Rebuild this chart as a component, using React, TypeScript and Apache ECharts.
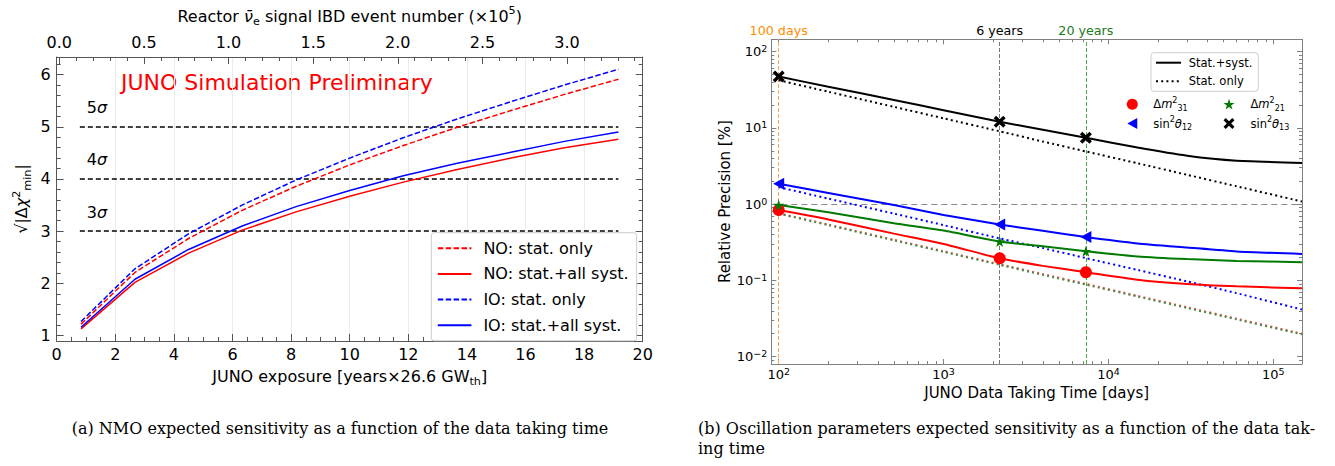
import React, { useEffect, useRef } from "react";
import * as echarts from "echarts";

const FONT = "DejaVu Sans";
const SERIF = "DejaVu Serif";

// ---------- (a) NMO sensitivity ----------
const EXPOSURE = [0.83, 2.67, 4.5, 6.33, 8.17, 10, 11.83, 13.67, 15.5, 17.33, 19.17];
const NO_STAT = [1.22, 2.21, 2.86, 3.4, 3.86, 4.27, 4.64, 4.99, 5.31, 5.62, 5.91];
const NO_SYST = [1.13, 2.02, 2.58, 3.02, 3.37, 3.67, 3.94, 4.18, 4.4, 4.6, 4.76];
const IO_STAT = [1.27, 2.28, 2.95, 3.5, 3.98, 4.4, 4.79, 5.15, 5.48, 5.8, 6.1];
const IO_SYST = [1.16, 2.08, 2.65, 3.1, 3.47, 3.78, 4.06, 4.3, 4.51, 4.72, 4.9];
const SIGMA_LEVELS = [3, 4, 5];
const SIGMA_SPAN = [0.79, 19.17];
const EVENT_TICKS = [0, 0.5, 1, 1.5, 2, 2.5, 3];
const EVENT_MINOR = [0.1, 0.2, 0.3, 0.4, 0.6, 0.7, 0.8, 0.9, 1.1, 1.2, 1.3, 1.4, 1.6, 1.7, 1.8, 1.9, 2.1, 2.2, 2.3, 2.4, 2.6, 2.7, 2.8, 2.9, 3.1, 3.2, 3.3, 3.4];
const CHI_TICKS = [1, 2, 3, 4, 5, 6];
const CHI_MINOR = [1.2, 1.4, 1.6, 1.8, 2.2, 2.4, 2.6, 2.8, 3.2, 3.4, 3.6, 3.8, 4.2, 4.4, 4.6, 4.8, 5.2, 5.4, 5.6, 5.8, 6.2];

// ---------- (b) oscillation parameter precision ----------
const DAYS = [100, 200, 500, 1000, 2190, 4000, 7300, 15000, 30000, 60000, 149300];
const S13_SYST = [47, 34.5, 23.2, 17.0, 12.0, 9.4, 7.4, 5.5, 4.3, 3.7, 3.45];
const S13_STAT = [42, 29.7, 18.8, 13.3, 9.0, 6.6, 4.9, 3.43, 2.42, 1.71, 1.08];
const S12_SYST = [1.85, 1.4, 0.97, 0.72, 0.54, 0.447, 0.37, 0.305, 0.27, 0.24, 0.222];
const S12_STAT = [1.67, 1.18, 0.75, 0.53, 0.355, 0.265, 0.196, 0.137, 0.097, 0.068, 0.0415];
const DM21_SYST = [0.97, 0.78, 0.56, 0.45, 0.323, 0.28, 0.241, 0.206, 0.19, 0.18, 0.173];
const DM21_STAT = [0.75, 0.53, 0.335, 0.237, 0.16, 0.118, 0.088, 0.0615, 0.0435, 0.0308, 0.0196];
const DM31_SYST = [0.835, 0.63, 0.41, 0.3, 0.195, 0.155, 0.128, 0.102, 0.0896, 0.0835, 0.0787];
const DM31_STAT = [0.76, 0.54, 0.34, 0.241, 0.163, 0.121, 0.09, 0.0628, 0.0445, 0.0315, 0.02];
const MARK_DAYS = [100, 2190, 7300];
const DM31_MARK = [0.835, 0.195, 0.128];
const DM21_MARK = [0.97, 0.323, 0.241];
const S12_MARK = [1.85, 0.54, 0.37];
const S13_MARK = [47, 12.0, 7.4];
const MILESTONES = [100, 2190, 7300];
const MILESTONE_LABELS = ["100 days", "6 years", "20 years"];
const REF_LEVEL = 1;
const DAY_TICKS = [100, 1000, 10000, 100000];
const DAY_MINOR = [200, 300, 400, 500, 600, 700, 800, 900, 2000, 3000, 4000, 5000, 6000, 7000, 8000, 9000, 20000, 30000, 40000, 50000, 60000, 70000, 80000, 90000];
const PREC_TICKS = [0.01, 0.1, 1, 10, 100];
const PREC_MINOR = [0.009, 0.02, 0.03, 0.04, 0.05, 0.06, 0.07, 0.08, 0.09, 0.2, 0.3, 0.4, 0.5, 0.6, 0.7, 0.8, 0.9, 2, 3, 4, 5, 6, 7, 8, 9, 20, 30, 40, 50, 60, 70, 80, 90];

const pairs = (xs: number[], ys: number[]) => xs.map((x, i) => [x, ys[i]]);

const FRAME_A = "#555";
const FRAME_B = "#808080";

const SYM_STAR = "path://M50,2 L61.8,38.2 L99,38.2 L69,60.5 L80.5,97 L50,74.5 L19.5,97 L31,60.5 L1,38.2 L38.2,38.2 Z";
const SYM_LTRI = "path://M0,5 L9,0 L9,10 Z";
const SYM_X = "path://M2,0 L5,3 L8,0 L10,2 L7,5 L10,8 L8,10 L5,7 L2,10 L0,8 L3,5 L0,2 Z";

const richA = (size: number) => ({
  n: { fontFamily: FONT, fontSize: size, color: "#000", lineHeight: size + 6 },
  i: { fontFamily: FONT, fontSize: size, fontStyle: "italic", color: "#000", lineHeight: size + 6 },
  sup: { fontFamily: FONT, fontSize: size * 0.7, color: "#000", lineHeight: size * 0.75, verticalAlign: "top" },
  sub: { fontFamily: FONT, fontSize: size * 0.7, color: "#000", lineHeight: size * 0.75, verticalAlign: "bottom" },
});

const pow10 = (v: number) => {
  const e = Math.round(Math.log10(v));
  return `{b|10}{s|${e < 0 ? "\u2212" + -e : e}}`;
};
const POW_RICH = {
  b: { fontFamily: FONT, fontSize: 13, color: "#000", lineHeight: 16 },
  s: { fontFamily: FONT, fontSize: 9.5, color: "#000", lineHeight: 9, verticalAlign: "top" },
};

const LEGEND_NAMES: Record<string, string> = {
  dm31: "{t|Δ}{i|m}{sup|2}{sub|31}",
  dm21: "{t|Δ}{i|m}{sup|2}{sub|21}",
  s12: "{t|sin}{sup|2}{i|θ}{sub|12}",
  s13: "{t|sin}{sup|2}{i|θ}{sub|13}",
};
const LEG_RICH = {
  t: { fontFamily: FONT, fontSize: 11.5, color: "#000", lineHeight: 16 },
  i: { fontFamily: FONT, fontSize: 11.5, fontStyle: "italic", color: "#000", lineHeight: 16 },
  sup: { fontFamily: FONT, fontSize: 8, color: "#000", lineHeight: 8, verticalAlign: "top" },
  sub: { fontFamily: FONT, fontSize: 8, color: "#000", lineHeight: 8, verticalAlign: "bottom" },
};

function buildOption(): any {
  const A_Y = { min: 0.897, max: 6.336 };
  const A_TOP = { min: -0.0154, max: 3.447 };
  const B_X = { min: 90.2, max: 149300 };
  const B_Y = { min: 0.00802, max: 144.5 };

  const tickOnly = (extra: any) => ({
    axisLine: { show: false, onZero: false },
    axisLabel: { show: false },
    splitLine: { show: false },
    ...extra,
  });

  const xAxis: any[] = [
    {
      type: "value", gridIndex: 0, position: "bottom", min: 0, max: 20, interval: 2,
      axisLine: { show: true, onZero: false, lineStyle: { color: FRAME_A } },
      axisTick: { show: true, inside: true, length: 7, lineStyle: { color: FRAME_A } },
      minorTick: { show: true, splitNumber: 4, length: 4, lineStyle: { color: FRAME_A } },
      axisLabel: { fontFamily: FONT, fontSize: 16, color: "#000", margin: 5 },
      splitLine: { show: true, lineStyle: { color: "#ebebeb", width: 1 } },
      name: "{n|JUNO exposure [years×26.6 GW}{sub|th}{n|]}",
      nameLocation: "middle", nameGap: 24,
      nameTextStyle: { fontFamily: FONT, fontSize: 16, color: "#000", rich: richA(16) },
    },
    {
      type: "value", gridIndex: 0, position: "top", ...A_TOP,
      axisLine: { show: true, onZero: false, lineStyle: { color: FRAME_A } },
      axisTick: { show: true, inside: true, length: 7, customValues: EVENT_TICKS, lineStyle: { color: FRAME_A } },
      axisLabel: { show: true, customValues: EVENT_TICKS, formatter: (v: number) => v.toFixed(1), fontFamily: FONT, fontSize: 16, color: "#000", margin: 7 },
      splitLine: { show: false },
      name: "{n|Reactor }{i|ν\u0304}{sub|e}{n| signal IBD event number (×10}{sup|5}{n|)}",
      nameLocation: "middle", nameGap: 30,
      nameTextStyle: { fontFamily: FONT, fontSize: 16, color: "#000", rich: richA(16) },
    },
    tickOnly({ type: "value", gridIndex: 0, position: "top", ...A_TOP, axisTick: { show: true, inside: true, length: 4, customValues: EVENT_MINOR, lineStyle: { color: FRAME_A } } }),
    {
      type: "log", logBase: 10, gridIndex: 1, position: "bottom", ...B_X,
      axisLine: { show: true, onZero: false, lineStyle: { color: FRAME_B } },
      axisTick: { show: true, inside: true, length: 5, customValues: DAY_TICKS, lineStyle: { color: FRAME_B } },
      axisLabel: { show: true, customValues: DAY_TICKS, formatter: pow10, rich: POW_RICH, margin: 2 },
      splitLine: { show: false },
      name: "JUNO Data Taking Time [days]", nameLocation: "middle", nameGap: 16,
      nameTextStyle: { fontFamily: FONT, fontSize: 15, color: "#000" },
    },
    tickOnly({ type: "log", logBase: 10, gridIndex: 1, position: "bottom", ...B_X, axisTick: { show: true, inside: true, length: 3, customValues: DAY_MINOR, lineStyle: { color: FRAME_B } } }),
    {
      type: "log", logBase: 10, gridIndex: 1, position: "top", ...B_X,
      axisLine: { show: true, onZero: false, lineStyle: { color: FRAME_B } },
      axisTick: { show: true, inside: true, length: 5, customValues: DAY_TICKS, lineStyle: { color: FRAME_B } },
      axisLabel: { show: false },
      splitLine: { show: false },
    },
    tickOnly({ type: "log", logBase: 10, gridIndex: 1, position: "top", ...B_X, axisTick: { show: true, inside: true, length: 3, customValues: DAY_MINOR, lineStyle: { color: FRAME_B } } }),
  ];

  const yAxis: any[] = [
    {
      type: "value", gridIndex: 0, position: "left", ...A_Y,
      axisLine: { show: true, onZero: false, lineStyle: { color: FRAME_A } },
      axisTick: { show: true, inside: true, length: 7, customValues: CHI_TICKS, lineStyle: { color: FRAME_A } },
      axisLabel: { show: true, customValues: CHI_TICKS, fontFamily: FONT, fontSize: 16, color: "#000", margin: 6 },
      splitLine: { show: false },
      name: "{n|√|Δ}{i|χ}{sup|2}{sub|min}{n||}",
      nameLocation: "middle", nameGap: 24,
      nameTextStyle: { fontFamily: FONT, fontSize: 16, color: "#000", rich: richA(16) },
    },
    tickOnly({ type: "value", gridIndex: 0, position: "left", ...A_Y, axisTick: { show: true, inside: true, length: 4, customValues: CHI_MINOR, lineStyle: { color: FRAME_A } } }),
    {
      type: "value", gridIndex: 0, position: "right", ...A_Y,
      axisLine: { show: true, onZero: false, lineStyle: { color: FRAME_A } },
      axisTick: { show: true, inside: true, length: 7, customValues: CHI_TICKS, lineStyle: { color: FRAME_A } },
      axisLabel: { show: false },
      splitLine: { show: false },
    },
    tickOnly({ type: "value", gridIndex: 0, position: "right", ...A_Y, axisTick: { show: true, inside: true, length: 4, customValues: CHI_MINOR, lineStyle: { color: FRAME_A } } }),
    {
      type: "log", logBase: 10, gridIndex: 1, position: "left", ...B_Y,
      axisLine: { show: true, onZero: false, lineStyle: { color: FRAME_B } },
      axisTick: { show: true, inside: true, length: 5, customValues: PREC_TICKS, lineStyle: { color: FRAME_B } },
      axisLabel: { show: true, customValues: PREC_TICKS, formatter: pow10, rich: POW_RICH, margin: 4 },
      splitLine: { show: false },
      name: "Relative Precision [%]", nameLocation: "middle", nameGap: 37,
      nameTextStyle: { fontFamily: FONT, fontSize: 15, color: "#000" },
    },
    tickOnly({ type: "log", logBase: 10, gridIndex: 1, position: "left", ...B_Y, axisTick: { show: true, inside: true, length: 3, customValues: PREC_MINOR, lineStyle: { color: FRAME_B } } }),
    {
      type: "log", logBase: 10, gridIndex: 1, position: "right", ...B_Y,
      axisLine: { show: true, onZero: false, lineStyle: { color: FRAME_B } },
      axisTick: { show: true, inside: true, length: 5, customValues: PREC_TICKS, lineStyle: { color: FRAME_B } },
      axisLabel: { show: false },
      splitLine: { show: false },
    },
    tickOnly({ type: "log", logBase: 10, gridIndex: 1, position: "right", ...B_Y, axisTick: { show: true, inside: true, length: 3, customValues: PREC_MINOR, lineStyle: { color: FRAME_B } } }),
  ];

  const aLine = (name: string, ys: number[], color: string, dashed: boolean, extra: any = {}) => ({
    type: "line", name, xAxisIndex: 0, yAxisIndex: 0,
    data: pairs(EXPOSURE, ys), symbol: "none", z: 3,
    lineStyle: { color, width: 1.5, type: dashed ? [5.5, 2.4] : "solid" },
    itemStyle: { color },
    ...extra,
  });

  const sigmaMark = {
    silent: true, symbol: ["none", "none"], z: 2,
    lineStyle: { color: "#000", width: 1.5, type: [5, 3] },
    label: {
      show: true, position: "insideStartTop", distance: [7, 8],
      formatter: (p: any) => `{n|${String(p.name).replace("σ", "")}}{i|σ}`,
      rich: richA(16),
    },
    data: SIGMA_LEVELS.map((l) => [
      { coord: [SIGMA_SPAN[0], l], name: `${l}σ` },
      { coord: [SIGMA_SPAN[1], l] },
    ]),
  };

  const bLine = (name: string, ys: number[], color: string, dotted: boolean) => ({
    type: "line", name, xAxisIndex: 3, yAxisIndex: 4,
    data: pairs(DAYS, ys), symbol: "none", z: 3, smooth: 0.2,
    lineStyle: { color, width: 2, type: dotted ? [2, 3.2] : "solid" },
    itemStyle: { color },
  });
  const bMark = (name: string, ys: number[], color: string, symbol: string, size: any) => ({
    type: "scatter", name, xAxisIndex: 3, yAxisIndex: 4,
    data: pairs(MARK_DAYS, ys), symbol, symbolSize: size, z: 4,
    itemStyle: { color, opacity: 1 },
  });

  const lineColors = ["#ffa54f", "#777777", "#4aa84a"];
  const textColors = ["#ff8c00", "#000000", "#1a7a1a"];
  const milestoneMark = {
    silent: true, symbol: ["none", "none"], z: 1,
    data: [
      ...MILESTONES.map((d, i) => ({
        xAxis: d, name: MILESTONE_LABELS[i],
        lineStyle: { color: lineColors[i], width: 1, type: [4, 2] },
        label: { show: true, position: "end", distance: 2, formatter: MILESTONE_LABELS[i], color: textColors[i], fontFamily: FONT, fontSize: 12.7 },
      })),
      {
        yAxis: REF_LEVEL, name: "ref",
        lineStyle: { color: "#888888", width: 1.2, type: [6, 4] },
        label: { show: false },
      },
    ],
  };

  const series: any[] = [
    aLine("NO: stat. only", NO_STAT, "#ff0000", true, { markLine: sigmaMark }),
    aLine("NO: stat.+all syst.", NO_SYST, "#ff0000", false),
    aLine("IO: stat. only", IO_STAT, "#0000ff", true),
    aLine("IO: stat.+all syst.", IO_SYST, "#0000ff", false),
    {
      type: "line", name: "Stat.+syst.", xAxisIndex: 3, yAxisIndex: 4, data: [], symbol: "none",
      lineStyle: { color: "#000", width: 2 }, itemStyle: { color: "#000" }, markLine: milestoneMark,
    },
    {
      type: "line", name: "Stat. only", xAxisIndex: 3, yAxisIndex: 4, data: [], symbol: "none",
      lineStyle: { color: "#000", width: 2, type: [2, 3.2] }, itemStyle: { color: "#000" },
    },
    bLine("s13-syst", S13_SYST, "#000000", false),
    bLine("s13-stat", S13_STAT, "#000000", true),
    bLine("s12-syst", S12_SYST, "#0000ff", false),
    bLine("s12-stat", S12_STAT, "#0000ff", true),
    bLine("dm21-syst", DM21_SYST, "#007a00", false),
    bLine("dm31-syst", DM31_SYST, "#ff0000", false),
    bLine("dm31-stat", DM31_STAT, "#ff5050", true),
    bLine("dm21-stat", DM21_STAT, "#4a8a4a", true),
    bMark("dm31", DM31_MARK, "#ff0000", "circle", 12),
    bMark("dm21", DM21_MARK, "#007a00", SYM_STAR, 11),
    bMark("s12", S12_MARK, "#0000ff", SYM_LTRI, [11, 12]),
    bMark("s13", S13_MARK, "#000000", SYM_X, 12),
  ];

  const legend: any[] = [
    {
      orient: "vertical", left: 431.3, top: 232.7, selectedMode: false,
      padding: [7.5, 8, 7.5, 5.5], itemWidth: 33.6, itemHeight: 14, itemGap: 9.7,
      borderColor: "#cccccc", borderWidth: 1, borderRadius: 3, backgroundColor: "#ffffff",
      itemStyle: { opacity: 0 },
      textStyle: { fontFamily: FONT, fontSize: 16, color: "#000", padding: [0, 0, 0, 7] },
      data: ["NO: stat. only", "NO: stat.+all syst.", "IO: stat. only", "IO: stat.+all syst."],
    },
    {
      orient: "vertical", left: 1151, top: 52.7, selectedMode: false,
      padding: [4, 6, 4, 4], itemWidth: 25, itemHeight: 10, itemGap: 6.6,
      borderColor: "#cccccc", borderWidth: 1, borderRadius: 3, backgroundColor: "#ffffff",
      itemStyle: { opacity: 0 },
      textStyle: { fontFamily: FONT, fontSize: 11.5, color: "#000", padding: [0, 0, 0, 2.7] },
      data: ["Stat.+syst.", "Stat. only"],
    },
    {
      orient: "vertical", left: 1126.8, top: 96.2, selectedMode: false,
      padding: 0, itemWidth: 11, itemHeight: 11, itemGap: 3.3,
      formatter: (n: string) => LEGEND_NAMES[n] || n,
      textStyle: { fontFamily: FONT, fontSize: 11.5, color: "#000", padding: [0, 0, 0, 10.5], rich: LEG_RICH },
      data: ["dm31", "s12"],
    },
    {
      orient: "vertical", left: 1223.5, top: 96.2, selectedMode: false,
      padding: 0, itemWidth: 11, itemHeight: 11, itemGap: 3.3,
      formatter: (n: string) => LEGEND_NAMES[n] || n,
      textStyle: { fontFamily: FONT, fontSize: 11.5, color: "#000", padding: [0, 0, 0, 11], rich: LEG_RICH },
      data: ["dm21", "s13"],
    },
  ];

  const capFont = `16px "${SERIF}"`;
  const graphic: any[] = [
    {
      type: "text", left: 121, top: 71,
      style: { text: "JUNO Simulation Preliminary", fill: "#ff0000", font: `22px "${FONT}"` },
    },
    {
      type: "text", x: 340, y: 428,
      style: {
        text: "(a) NMO expected sensitivity as a function of the data taking time",
        fill: "#000", font: capFont, textAlign: "center", textVerticalAlign: "middle",
      },
    },
    {
      type: "text", x: 698, y: 428,
      style: {
        text: "(b) Oscillation parameters expected sensitivity as a function of the data tak-",
        fill: "#000", font: capFont, textAlign: "left", textVerticalAlign: "middle",
      },
    },
    {
      type: "text", x: 698, y: 448,
      style: { text: "ing time", fill: "#000", font: capFont, textAlign: "left", textVerticalAlign: "middle" },
    },
  ];

  return {
    animation: false,
    backgroundColor: "#ffffff",
    textStyle: { fontFamily: FONT },
    grid: [
      { left: 56.7, top: 49.3, width: 586, height: 291.7 },
      { left: 771.3, top: 39.3, width: 530.7, height: 324.7 },
    ],
    xAxis,
    yAxis,
    legend,
    series,
    graphic,
  };
}

export default function App() {
  const ref = useRef<HTMLDivElement>(null);
  useEffect(() => {
    if (!ref.current) return;
    const chart = echarts.init(ref.current, undefined, { renderer: "svg" });
    chart.setOption(buildOption());
    return () => chart.dispose();
  }, []);
  return (
    <div
      ref={ref}
      style={{ position: "fixed", left: 0, top: 0, width: 1335, height: 466, background: "#fff" }}
    />
  );
}
